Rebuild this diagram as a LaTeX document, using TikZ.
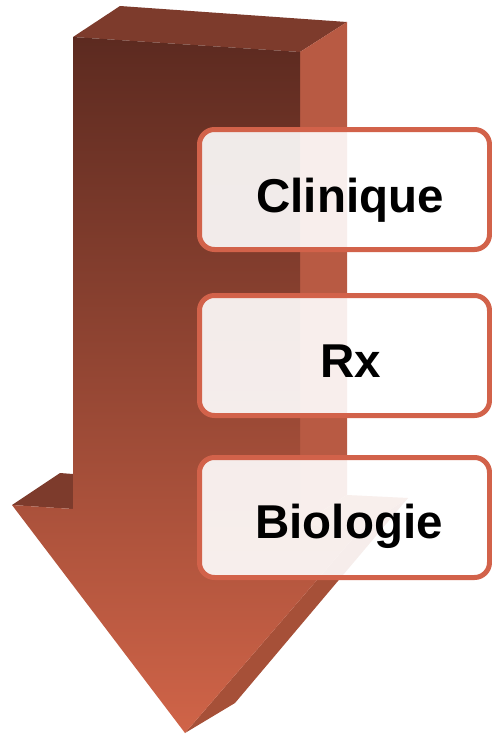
\documentclass[tikz,border=0pt]{standalone}
\usepackage{fontspec}
\setmainfont{Liberation Sans}
\definecolor{topface}{HTML}{7D3B2C}
\definecolor{sideface}{HTML}{B85A43}
\definecolor{headside}{HTML}{A65038}
\definecolor{barbtop}{HTML}{C05C44}
\definecolor{frontA}{HTML}{5C2A20}
\definecolor{frontB}{HTML}{A04A36}
\definecolor{frontC}{HTML}{D06448}
\definecolor{boxline}{HTML}{D2624A}
\tikzset{
  stagebox/.style={draw=boxline, line width=5pt, rounded corners=15pt,
    fill=white, fill opacity=0.9, minimum width=290pt, minimum height=120pt},
  stagetext/.style={anchor=base, font=\fontsize{47.5}{56}\selectfont\bfseries, text=black}
}
\begin{document}
\begin{tikzpicture}[x=1pt,y=-1pt]
\useasboundingbox (0,0) rectangle (492,736);
% top face
\fill[topface] (73,37) -- (120,6) -- (347,22) -- (300,52) -- cycle;
% right side of shaft
\fill[sideface] (300,52) -- (347,22) -- (347,495) -- (300,525) -- cycle;
% right barb top
\fill[barbtop] (300,525) -- (361,529) -- (408,498) -- (347,495) -- cycle;
% head right side
\fill[headside] (361,529) -- (408,498) -- (235,703) -- (185,733) -- cycle;
% left barb top
\fill[topface] (12,505) -- (60,473) -- (73,474) -- (73,509) -- cycle;
% front face
\shade[top color=frontA, middle color=frontB, bottom color=frontC]
  (73,37) -- (300,52) -- (300,525) -- (361,529) -- (185,733) -- (12,505) -- (73,509) -- cycle;
% boxes
\node[stagebox] (b1) at (344.5,189.5) {};
\node[stagebox] (b2) at (344.5,355.5) {};
\node[stagebox] (b3) at (344.5,517.5) {};
\node[stagetext] (t1) at (350,212) {Clinique};
\node[stagetext] (t2) at (351,377) {Rx};
\node[stagetext] (t3) at (349,538) {Biologie};
\end{tikzpicture}
\end{document}
